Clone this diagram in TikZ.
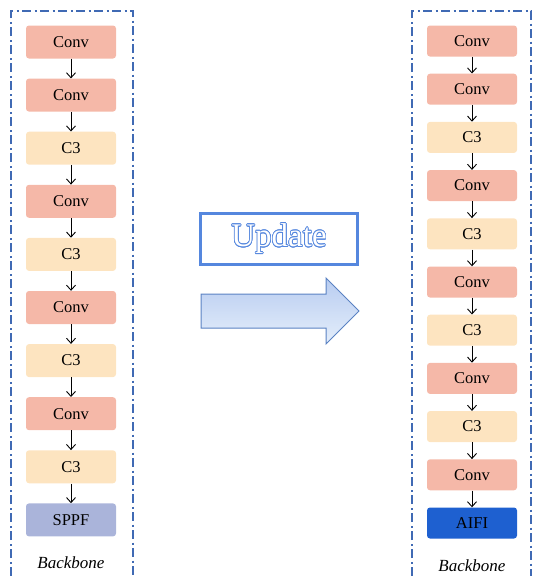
\documentclass[tikz,border=0pt]{standalone}
\usepackage{fontspec}
\setmainfont{Liberation Serif}
\usepackage[copies]{contour}
\usetikzlibrary{arrows.meta}
\definecolor{cconv}{RGB}{245,184,168}
\definecolor{cthree}{RGB}{253,228,192}
\definecolor{csppf}{RGB}{170,180,218}
\definecolor{caifi}{RGB}{30,96,208}
\definecolor{cframe}{RGB}{64,106,180}
\definecolor{cupd}{RGB}{85,135,222}
\definecolor{cartop}{RGB}{184,204,240}
\definecolor{carbot}{RGB}{228,238,251}
\definecolor{cardraw}{RGB}{90,130,195}

\begin{document}
\begin{tikzpicture}[x=1pt,y=-1pt,font=\fontsize{16.5}{18}\selectfont,>={Straight Barb[length=5pt,width=9pt]}]
 \useasboundingbox (0,0) rectangle (533,576);
 \tikzset{blk/.style={rounded corners=3pt,minimum width=90pt,inner sep=0pt},
   frame/.style={cframe,line width=1.7pt,dash pattern=on 9pt off 3.5pt on 2pt off 3.5pt},
   link/.style={->,line width=0.9pt}}
 % ---- dashed frames ----
 \draw[frame](11,576)--(11,11)--(133,11)--(133,576);
 \draw[frame](412,576)--(412,11)--(531,11)--(531,576);
 % ---- left column ----
 \foreach \i/\c/\lab in {1/cconv/Conv,2/cconv/Conv,3/cthree/C3,4/cconv/Conv,5/cthree/C3,
   6/cconv/Conv,7/cthree/C3,8/cconv/Conv,9/cthree/C3,10/csppf/SPPF}
   \node[blk,fill=\c,minimum height=33pt](l\i) at (71,{42+53.1*(\i-1)}){\lab};
 \foreach \i [count=\j from 2] in {1,...,9}\draw[link](l\i.south)--(l\j.north);
 \node[font=\fontsize{17}{18}\selectfont\itshape](lbb) at (71,563){Backbone};
 % ---- right column ----
 \foreach \i/\c/\lab in {1/cconv/Conv,2/cconv/Conv,3/cthree/C3,4/cconv/Conv,5/cthree/C3,
   6/cconv/Conv,7/cthree/C3,8/cconv/Conv,9/cthree/C3,10/cconv/Conv}
   \node[blk,fill=\c,minimum height=31pt](r\i) at (472,{41+48.2*(\i-1)}){\lab};
 \node[blk,fill=caifi,minimum height=31pt](r11) at (472,523){AIFI};
 \foreach \i [count=\j from 2] in {1,...,10}\draw[link](r\i.south)--(r\j.north);
 \node[font=\fontsize{17}{18}\selectfont\itshape](rbb) at (472,566){Backbone};
 % ---- update box and arrow ----
 \contourlength{0.7pt}
 \node[draw=cupd,line width=2.2pt,minimum width=157pt,minimum height=51pt,inner sep=0pt,
   font=\fontsize{33}{36}\selectfont](upd) at (279,239)
   {\contour{cupd}{\color{white}Update}};
 \draw[draw=cardraw,line width=1pt,top color=cartop,bottom color=carbot]
   (201,294)--(326,294)--(326,278)--(359,311)--(326,344)--(326,328)--(201,328)--cycle;
\end{tikzpicture}
\end{document}
